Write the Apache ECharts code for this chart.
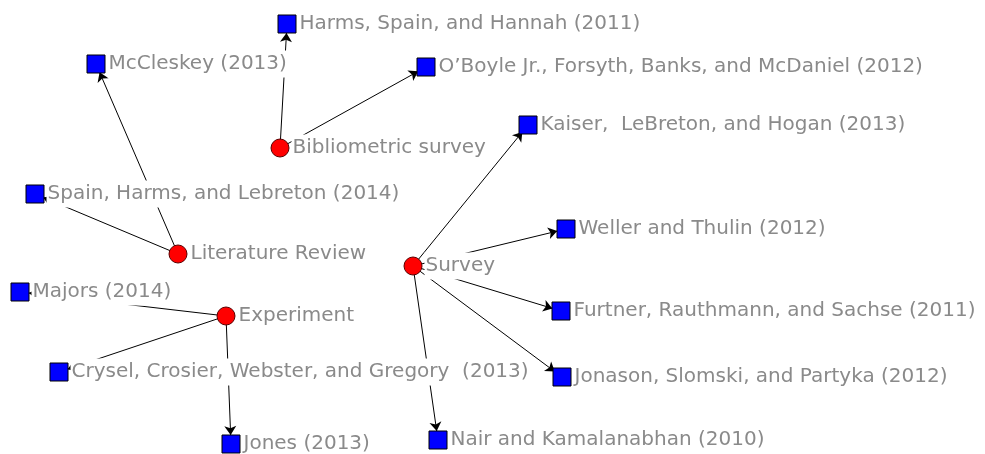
<!DOCTYPE html>
<html>
<head>
<meta charset="utf-8">
<script src="https://cdn.jsdelivr.net/npm/echarts@6/dist/echarts.min.js"></script>
<style>
  html, body { margin: 0; padding: 0; background: #fff; }
  #main { width: 985px; height: 454px; }
</style>
</head>
<body>
<div id="main"></div>
<script>
// nodes: name, kind (method = red circle, paper = blue square), position
var nodeNames = [
    'Bibliometric survey', 'Literature Review', 'Experiment', 'Survey',
    'Harms, Spain, and Hannah (2011)', 'O\u2019Boyle Jr., Forsyth, Banks, and McDaniel (2012)',
    'McCleskey (2013)', 'Spain, Harms, and Lebreton (2014)',
    'Majors (2014)', 'Crysel, Crosier, Webster, and Gregory  (2013)', 'Jones (2013)',
    'Kaiser,  LeBreton, and Hogan (2013)', 'Weller and Thulin (2012)',
    'Furtner, Rauthmann, and Sachse (2011)', 'Jonason, Slomski, and Partyka (2012)',
    'Nair and Kamalanabhan (2010)'
];
var nodeKind = ['method', 'method', 'method', 'method',
    'paper', 'paper', 'paper', 'paper', 'paper', 'paper', 'paper',
    'paper', 'paper', 'paper', 'paper', 'paper'];
var nodeX = [280, 178, 226, 413, 287, 426, 96, 35, 20, 59, 231, 528, 566, 561, 562, 438];
var nodeY = [148, 254, 316, 266, 24, 67, 64, 194, 292, 372, 444, 125, 229, 311, 377, 440];

// links: [source index, target index]
var links = [
    [0, 4], [0, 5],
    [1, 6], [1, 7],
    [2, 8], [2, 9], [2, 10],
    [3, 11], [3, 12], [3, 13], [3, 14], [3, 15]
];

var myChart = echarts.init(document.getElementById('main'));

var nodes = nodeNames.map(function (name, i) {
    var isMethod = nodeKind[i] === 'method';
    return {
        name: name,
        value: [nodeX[i], nodeY[i]],
        symbol: isMethod ? 'circle' : 'rect',
        symbolSize: 18,
        itemStyle: {
            color: isMethod ? '#ff0000' : '#0000ff',
            borderColor: isMethod ? '#5a0000' : '#000000',
            borderWidth: 1
        }
    };
});

var edges = links.map(function (l) {
    return { source: l[0], target: l[1] };
});

var option = {
    animation: false,
    backgroundColor: '#ffffff',
    grid: { left: 0, right: 0, top: 0, bottom: 0 },
    xAxis: { type: 'value', min: 0, max: 985, show: false },
    yAxis: { type: 'value', min: 0, max: 454, inverse: true, show: false },
    series: [{
        type: 'graph',
        coordinateSystem: 'cartesian2d',
        data: nodes,
        links: edges,
        edgeSymbol: ['none', 'arrow'],
        edgeSymbolSize: [4, 9],
        lineStyle: { color: '#000', width: 1, opacity: 1, curveness: 0 },
        label: {
            show: true,
            position: 'right',
            distance: 2,
            formatter: '{b}',
            color: '#8a8a8a',
            fontFamily: 'DejaVu Sans',
            fontSize: 20,
            lineHeight: 23,
            backgroundColor: '#ffffff',
            padding: [2, 1, 2, 1]
        },
        emphasis: { disabled: true }
    }]
};

myChart.setOption(option);
</script>
</body>
</html>
